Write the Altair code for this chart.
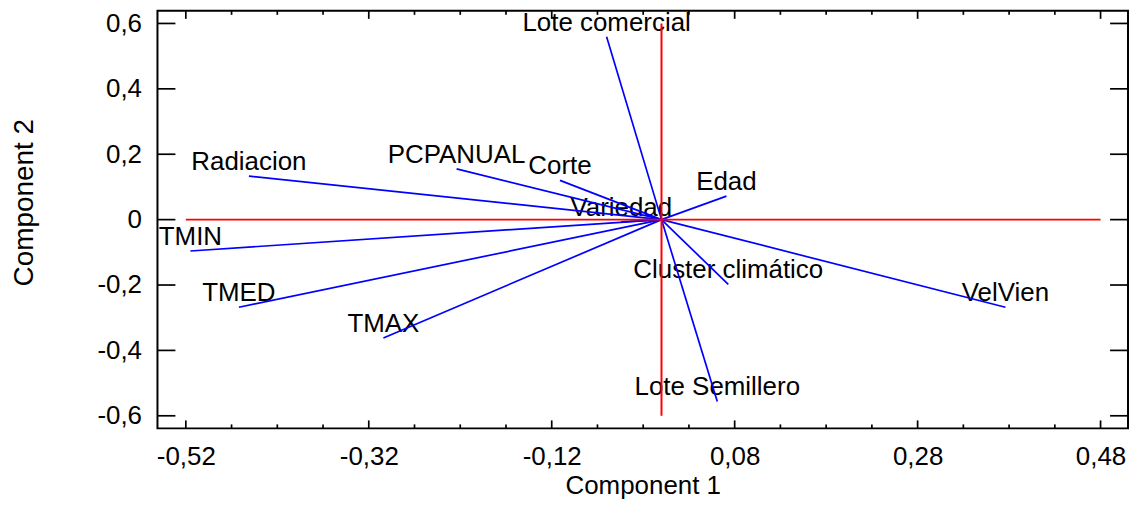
import altair as alt
import pandas as pd

# ---- data ----
names = ["Lote comercial", "PCPANUAL", "Corte", "Radiacion", "Edad", "Variedad",
         "TMIN", "TMED", "TMAX", "Cluster climático", "VelVien", "Lote Semillero"]
comp1 = [-0.060, -0.224, -0.111, -0.451, 0.071, -0.044,
         -0.515, -0.462, -0.304, 0.073, 0.376, 0.061]
comp2 = [0.559, 0.155, 0.120, 0.133, 0.072, -0.007,
         -0.096, -0.268, -0.362, -0.198, -0.268, -0.556]

x_ticks = [-0.52, -0.32, -0.12, 0.08, 0.28, 0.48]
x_tick_labels = ["-0,52", "-0,32", "-0,12", "0,08", "0,28", "0,48"]
x_minor = [-0.47, -0.42, -0.37, -0.27, -0.22, -0.17, -0.07, -0.02, 0.03,
           0.13, 0.18, 0.23, 0.33, 0.38, 0.43]
y_ticks = [-0.6, -0.4, -0.2, 0.0, 0.2, 0.4, 0.6]
y_tick_labels = ["-0,6", "-0,4", "-0,2", "0", "0,2", "0,4", "0,6"]
x_domain = [-0.551, 0.510]
y_domain = [-0.6385, 0.6385]

W, H = 974, 419
FONT = "Liberation Sans"


def lab_expr(vals, labs):
    expr = "''"
    for v, l in reversed(list(zip(vals, labs))):
        expr = f"abs(datum.value - ({v})) < 1e-9 ? '{l}' : {expr}"
    return expr


xscale = alt.Scale(domain=x_domain, nice=False, zero=False)
yscale = alt.Scale(domain=y_domain, nice=False, zero=False)

xaxis = alt.Axis(values=x_ticks, labelExpr=lab_expr(x_ticks, x_tick_labels),
                 domain=False, ticks=False, grid=False, labelPadding=15.5,
                 labelFont=FONT, labelFontSize=26, labelColor="black",
                 labelFlush=False, labelOverlap=False,
                 title="Component 1", titleFont=FONT, titleFontSize=26,
                 titleFontWeight="normal", titleColor="black",
                 titleY=65, titleBaseline="alphabetic")
yaxis = alt.Axis(values=y_ticks, labelExpr=lab_expr(y_ticks, y_tick_labels),
                 domain=False, ticks=False, grid=False, labelPadding=16,
                 labelFont=FONT, labelFontSize=26, labelColor="black",
                 labelFlush=False, labelOverlap=False,
                 title="Component 2", titleFont=FONT, titleFontSize=28,
                 titleFontWeight="normal", titleColor="black",
                 titleAngle=270, titleX=-125, titleY=192,
                 titleAlign="center", titleBaseline="alphabetic")


def X(field):
    return alt.X(field, type="quantitative", scale=xscale, axis=xaxis)


def Y(field):
    return alt.Y(field, type="quantitative", scale=yscale, axis=yaxis)


vec = pd.DataFrame({"name": names, "c1": comp1, "c2": comp2,
                    "o1": [0.0] * len(names), "o2": [0.0] * len(names)})

labels = alt.Chart(vec).mark_text(
    align="center", baseline="alphabetic", dy=-6, font=FONT, fontSize=26, color="black"
).encode(x=X("c1"), y=Y("c2"), text="name:N")

vectors = alt.Chart(vec).mark_rule(color="#0000ff", strokeWidth=1.7).encode(
    x=X("o1"), y=Y("o2"), x2="c1", y2="c2")

axes_df = pd.DataFrame({
    "xa": [x_ticks[0], 0.0], "xb": [x_ticks[-1], 0.0],
    "ya": [0.0, y_ticks[0]], "yb": [0.0, y_ticks[-1]],
})
red = alt.Chart(axes_df).mark_rule(color="#ff0000", strokeWidth=2).encode(
    x=X("xa"), x2="xb", y=Y("ya"), y2="yb")

ymaj = pd.DataFrame({"v": y_ticks})
xmaj = pd.DataFrame({"v": x_ticks})
xmin_df = pd.DataFrame({"v": x_minor})
tk = dict(color="black", strokeWidth=1.7)

left_t = alt.Chart(ymaj).mark_rule(**tk).encode(y=Y("v"), x=alt.value(0), x2=alt.value(18))
right_t = alt.Chart(ymaj).mark_rule(**tk).encode(y=Y("v"), x=alt.value(W - 18), x2=alt.value(W))
bot_t = alt.Chart(xmaj).mark_rule(**tk).encode(x=X("v"), y=alt.value(H), y2=alt.value(H - 8))
top_t = alt.Chart(xmaj).mark_rule(**tk).encode(x=X("v"), y=alt.value(0), y2=alt.value(8))
bot_m = alt.Chart(xmin_df).mark_rule(**tk).encode(x=X("v"), y=alt.value(H), y2=alt.value(H - 4))
top_m = alt.Chart(xmin_df).mark_rule(**tk).encode(x=X("v"), y=alt.value(0), y2=alt.value(4))

chart = alt.layer(labels, vectors, red, left_t, right_t, bot_t, top_t, bot_m, top_m).properties(
    width=W, height=H,
    autosize=alt.AutoSizeParams(type="none"),
    padding={"left": 150, "top": 2, "right": 2, "bottom": 71},
    background="white",
).configure_view(stroke="black", strokeWidth=2)

chart.save("out.html", embed_options={"renderer": "svg", "actions": False})
